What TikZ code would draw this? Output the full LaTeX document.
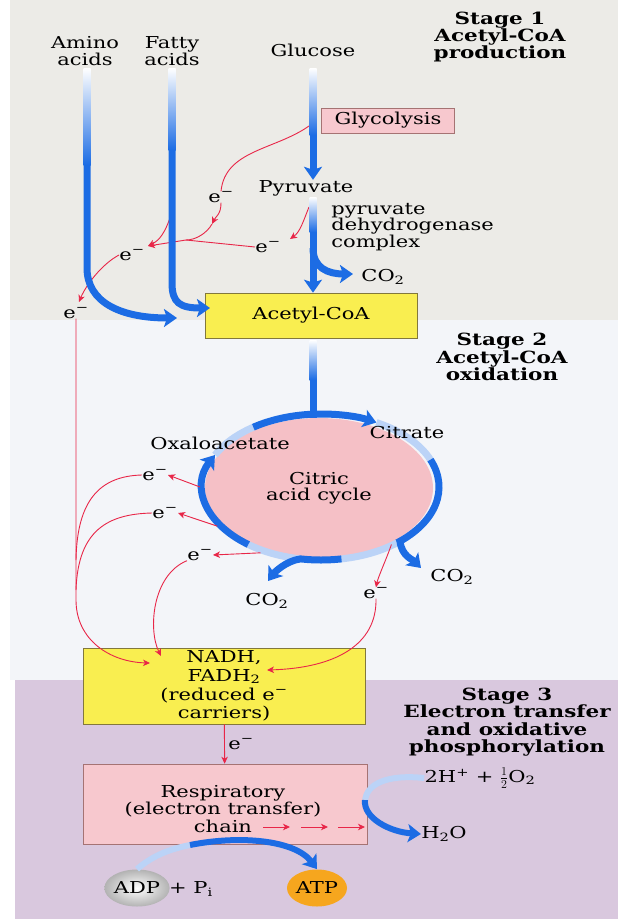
\documentclass[tikz,border=0pt]{standalone}
\usepackage{fontspec}
\setmainfont{DejaVu Serif}[FakeStretch=1.28]
\usepackage{tikz}
\usetikzlibrary{arrows.meta,shapes.geometric}
\tikzset{every picture/.style={line width=0.75pt}}
\definecolor{bgtop}{RGB}{236,235,231}
\definecolor{bgmid}{RGB}{243,245,249}
\definecolor{bgbot}{RGB}{217,200,222}
\definecolor{boxyellow}{RGB}{249,238,80}
\definecolor{boxedge}{RGB}{130,120,60}
\definecolor{boxpink}{RGB}{247,200,206}
\definecolor{pinkedge}{RGB}{165,115,115}
\definecolor{cyclepink}{RGB}{245,192,198}
\definecolor{flowblue}{RGB}{28,108,228}
\definecolor{ered}{RGB}{232,38,72}
\definecolor{atporange}{RGB}{246,166,30}
\tikzset{
  txt/.style={inner sep=0pt, align=center},
  heading/.style={inner sep=0pt, align=center, font=\fontsize{16.8}{17.4}\selectfont\bfseries},
  yellowbox/.style={draw=boxedge, fill=boxyellow, line width=0.6pt, align=center, inner sep=0pt},
  pinkbox/.style={draw=pinkedge, fill=boxpink, line width=0.6pt, align=center, inner sep=0pt},
  flowline/.style={draw=flowblue, line width=7pt},
  flow/.style={flowline, -{Stealth[length=13pt,width=18pt,inset=3pt]}},
  faint/.style={draw=flowblue!30, line width=7pt},
  eline/.style={draw=ered, line width=0.9pt},
  elec/.style={eline, -{Stealth[length=7pt,width=6.5pt,inset=2pt]}}
}
\newcommand{\eminus}{e\textsuperscript{\char"2212}}
\begin{document}
\begin{tikzpicture}[x=1pt,y=1pt,font=\fontsize{16.4}{16.5}\selectfont]
\useasboundingbox (0,0) rectangle (618,-919);
\fill[white] (0,0) rectangle (618,-919);
\fill[bgtop] (10,0) rectangle (618,-320);
\fill[bgmid] (10,-320) rectangle (618,-680);
\fill[bgbot] (15,-680) rectangle (618,-919);
%
\node[heading] (s1) at (500,-37) {Stage 1\\Acetyl-CoA\\production};
\node[heading] (s2) at (502,-357) {Stage 2\\Acetyl-CoA\\oxidation};
\node[heading] (s3) at (507,-722) {Stage 3\\Electron transfer\\and oxidative\\phosphorylation};
%
\node[txt] (amino) at (85,-51) {Amino\\acids};
\node[txt] (fatty) at (172,-51) {Fatty\\acids};
\node[txt] (glc) at (313,-50) {Glucose};
\node[pinkbox, minimum width=133, minimum height=25] (glyco) at (388,-120.5) {Glycolysis};
\node[txt] (pyr) at (306,-188) {Pyruvate};
\node[txt, anchor=west, align=left] (pdh) at (331,-227) {pyruvate\\dehydrogenase\\complex};
\node[txt] (co2a) at (383,-277) {CO\textsubscript{2}};
\node[yellowbox, minimum width=212, minimum height=45] (acoa) at (311,-315.5) {Acetyl-CoA};
%
\coordinate (ring) at (321,-487);
\node[ellipse, fill=cyclepink, minimum width=228, minimum height=140, inner sep=0pt, align=center] (tca) at (319,-488) {Citric\\acid cycle};
\node[txt] (co2b) at (452,-577) {CO\textsubscript{2}};
\node[txt] (co2c) at (267,-601) {CO\textsubscript{2}};
%
\node[yellowbox, minimum width=282, minimum height=76, font=\fontsize{16.4}{18.8}\selectfont] (nadh) at (224,-686) {NADH,\\FADH\textsubscript{2}\\(reduced \eminus\\carriers)};
\node[pinkbox, minimum width=284, minimum height=80] (resp) at (225,-804) {};
\node[txt, font=\fontsize{16.4}{17.4}\selectfont] (resptxt) at (223,-809) {Respiratory\\(electron transfer)\\chain};
\node[txt] (hplus) at (480,-778) {2H\textsuperscript{+} + $\frac{1}{2}$O\textsubscript{2}};
\node[txt] (h2o) at (444,-834) {H\textsubscript{2}O};
\node[ellipse, inner color=white, outer color=gray!60, minimum width=60, minimum height=37, inner sep=0pt] (adp) at (137,-888) {ADP};
\node[txt] (pi) at (191,-889) {+ P\textsubscript{i}};
\node[ellipse, fill=atporange, minimum width=60, minimum height=37, inner sep=0pt] (atp) at (317,-888) {ATP};
%
\node[txt] (e1) at (221,-197) {\eminus};
\node[txt] (e2) at (268,-247) {\eminus};
\node[txt] (e3) at (132,-255) {\eminus};
\node[txt] (e4) at (76,-313) {\eminus};
\node[txt] (e5) at (155,-475) {\eminus};
\node[txt] (e6) at (165,-513) {\eminus};
\node[txt] (e7) at (200,-555) {\eminus};
\node[txt] (e8) at (376,-593) {\eminus};
\node[txt] (e9) at (241,-744) {\eminus};
%
\coordinate (g1) at (309,-126);
\coordinate (j1) at (212,-224);
\coordinate (junc) at (186,-240);
\coordinate (p1) at (309,-207);
\coordinate (j2) at (290,-239);
\coordinate (j3) at (148,-246);
\coordinate (f1) at (170,-218);
\coordinate (j4) at (79,-302);
\coordinate (j5) at (150,-663);
\draw[eline] (g1) .. controls (275,-150) and (225,-150) .. (e1.north);
\draw[elec] (e1.south) .. controls +(0,-12) and +(4,8) .. (j1);
\draw[eline] (j1) .. controls +(-5,-9) and +(10,0) .. (junc);
\draw[elec] (p1) .. controls (303,-222) and (300,-232) .. (j2);
\draw[elec] (e2.west) -- (junc) -- (j3);
\draw[elec] (f1) .. controls (165,-232) and (160,-240) .. (j3);
\draw[elec] (e3.west) .. controls (102,-264) and (86,-285) .. (j4);
\draw[elec] (e4.south) -- (76,-600) .. controls (76,-640) and (110,-662) .. (j5);
%
\foreach \x/\ya/\yb in {87/68/165, 172/68/150, 313/68/135, 313/197/232, 313/340/380}
  \shade[top color=white, bottom color=flowblue] (\x-3.5,-\ya) rectangle (\x+3.5,-\yb);
\coordinate (am1) at (87,-165);
\coordinate (amtip) at (177,-318);
\coordinate (fa1) at (172,-150);
\coordinate (fatip) at (210,-308);
\coordinate (gl1) at (313,-135);
\coordinate (gl2) at (313,-232);
\coordinate (gl3) at (313,-248);
\coordinate (co2atip) at (353,-274);
\coordinate (acring) at (313,-380);
\coordinate (co2btip) at (421,-568);
\coordinate (co2ctip) at (268,-581);
\draw[flow] (am1) -- (87,-268) .. controls (87,-302) and (120,-318) .. (amtip);
\draw[flow] (fa1) -- (172,-283) .. controls (172,-303) and (180,-308) .. (fatip);
\draw[flow] (gl1) -- (gl1 |- pyr.north);
\draw[flow] (gl2) -- (gl2 |- acoa.north);
\draw[flow] (gl3) .. controls +(0,-20) and +(-25,0) .. (co2atip);
\draw[flowline] (acring) -- (acring |- tca.north);
%
\foreach \a/\b/\s in {94/62/flow, 62/22/faint, 22/-50/flowline, -50/-80/faint, -100/-128/faint, -128/-206/flow, -206/-235/faint, -235/-266/flowline}
  \draw[\s] (ring) ++(\a:118 and 73) arc[start angle=\a, end angle=\b, x radius=118, y radius=73];
\draw[flow] (ring) ++(-80:118 and 73) arc[start angle=-80, end angle=-100, x radius=118, y radius=73] .. controls +(-15,-2) and +(6,8) .. (co2ctip);
\draw[flow] (ring) ++(-48:118 and 73) .. controls +(2,-15) and +(-9,9) .. (co2btip);
\node[txt] (oaa) at (220,-443) {Oxaloacetate};
\node[txt] (cit) at (407,-433) {Citrate};
%
\coordinate (j6) at (161,-656);
\coordinate (j7) at (267,-670);
\draw[elec] (ring) ++(180:121 and 76) -- (e5.east);
\draw[elec] (ring) ++(-149:121 and 76) -- (e6.east);
\draw[elec] (ring) ++(-120:121 and 76) -- (e7.east);
\draw[eline] (e5.west) .. controls (100,-476) and (77,-500) .. (76,-560);
\draw[eline] (e6.west) .. controls (108,-514) and (78,-530) .. (76,-590);
\draw[elec] (e7.south west) .. controls (152,-575) and (148,-630) .. (j6);
\draw[elec] (ring) ++(-53:117 and 72) .. controls +(-4,-12) and +(2,10) .. (e8.north);
\draw[elec] (e8.south) .. controls (377,-645) and (335,-668) .. (j7);
%
\draw[elec] (nadh) -- (resp);
\foreach \x in {263,301,338}
  \draw[elec] (\x,-827) -- ++(27,0);
%
\coordinate (hm) at (365,-800);
\coordinate (am) at (190,-845);
\draw[faint, line width=6pt] (hplus.west) .. controls (385,-774) and (367,-785) .. (hm);
\draw[flow, line width=6pt] (hm) .. controls (363,-818) and (390,-832) .. (h2o.west);
\draw[faint, line width=6pt] (adp.north) .. controls (150,-858) and (165,-850) .. (am);
\draw[flow, line width=6pt] (am) .. controls (240,-835) and (295,-840) .. (atp.north);
\end{tikzpicture}
\end{document}
